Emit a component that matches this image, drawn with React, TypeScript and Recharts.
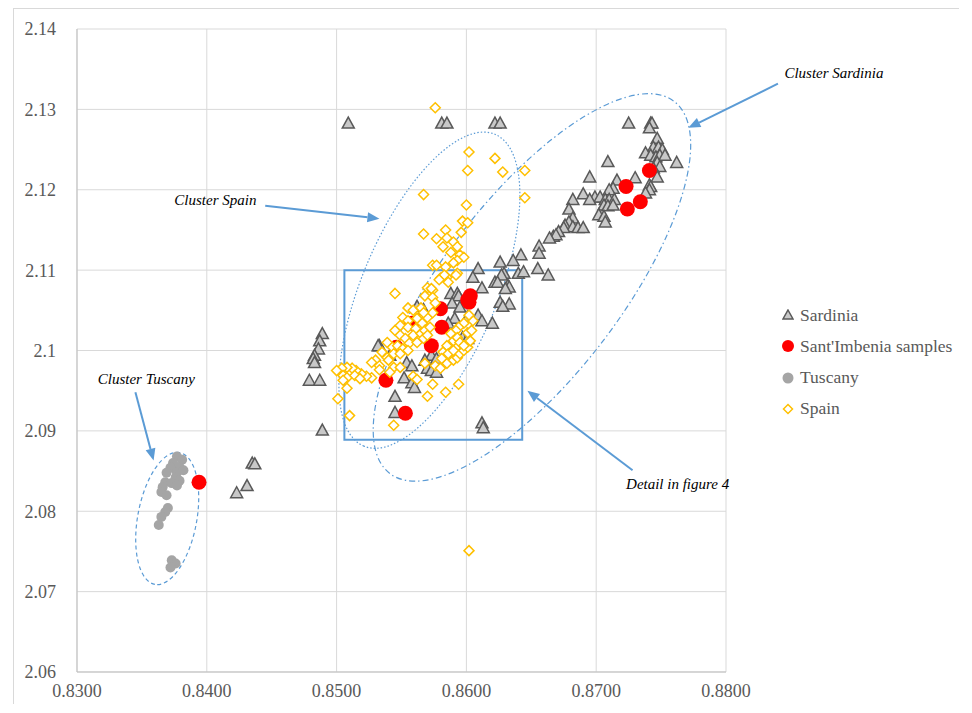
import React from 'react';
import {
  ScatterChart,
  Scatter,
  XAxis,
  YAxis,
  CartesianGrid,
  ReferenceArea,
  ReferenceLine,
  ReferenceDot,
} from 'recharts';

const xTicks = [0.83, 0.84, 0.85, 0.86, 0.87, 0.88];
const yTicks = [2.06, 2.07, 2.08, 2.09, 2.1, 2.11, 2.12, 2.13, 2.14];

const sardinia = [
  { x: 0.8509, y: 2.1283 }, { x: 0.8581, y: 2.1283 }, { x: 0.8585, y: 2.1283 }, { x: 0.8622, y: 2.1283 },
  { x: 0.8626, y: 2.1283 }, { x: 0.8725, y: 2.1283 }, { x: 0.8742, y: 2.1283 }, { x: 0.8743, y: 2.1283 },
  { x: 0.8741, y: 2.1277 }, { x: 0.8747, y: 2.1264 }, { x: 0.8744, y: 2.1253 }, { x: 0.8748, y: 2.1253 },
  { x: 0.8751, y: 2.125 }, { x: 0.8738, y: 2.1246 }, { x: 0.8742, y: 2.1243 }, { x: 0.8746, y: 2.1241 },
  { x: 0.8749, y: 2.1243 }, { x: 0.8753, y: 2.1243 }, { x: 0.8762, y: 2.1234 }, { x: 0.8709, y: 2.1235 },
  { x: 0.8747, y: 2.1234 }, { x: 0.8749, y: 2.1229 }, { x: 0.8744, y: 2.1227 }, { x: 0.8747, y: 2.1216 },
  { x: 0.873, y: 2.1215 }, { x: 0.8716, y: 2.1212 }, { x: 0.8695, y: 2.1216 }, { x: 0.8741, y: 2.1206 },
  { x: 0.8742, y: 2.1204 }, { x: 0.8713, y: 2.1202 }, { x: 0.871, y: 2.12 }, { x: 0.8741, y: 2.12 },
  { x: 0.8738, y: 2.1196 }, { x: 0.869, y: 2.1195 }, { x: 0.8699, y: 2.1191 }, { x: 0.8703, y: 2.1191 },
  { x: 0.8695, y: 2.1188 }, { x: 0.8707, y: 2.1188 }, { x: 0.871, y: 2.1188 }, { x: 0.8714, y: 2.1188 },
  { x: 0.8706, y: 2.1181 }, { x: 0.8709, y: 2.118 }, { x: 0.8713, y: 2.1181 }, { x: 0.8682, y: 2.1188 },
  { x: 0.8679, y: 2.1176 }, { x: 0.8702, y: 2.1169 }, { x: 0.8706, y: 2.1167 }, { x: 0.8707, y: 2.116 },
  { x: 0.8682, y: 2.1165 }, { x: 0.8679, y: 2.116 }, { x: 0.8676, y: 2.1156 }, { x: 0.8682, y: 2.1154 },
  { x: 0.8686, y: 2.1153 }, { x: 0.869, y: 2.1153 }, { x: 0.8675, y: 2.1153 }, { x: 0.8671, y: 2.1148 },
  { x: 0.8667, y: 2.1142 }, { x: 0.8669, y: 2.1144 }, { x: 0.8656, y: 2.113 }, { x: 0.8656, y: 2.1121 },
  { x: 0.8655, y: 2.1102 }, { x: 0.8663, y: 2.1094 }, { x: 0.8642, y: 2.1119 }, { x: 0.8636, y: 2.1112 },
  { x: 0.8626, y: 2.111 }, { x: 0.8622, y: 2.1085 }, { x: 0.8629, y: 2.1096 }, { x: 0.8632, y: 2.1081 },
  { x: 0.864, y: 2.1096 }, { x: 0.8644, y: 2.1098 }, { x: 0.8664, y: 2.114 }, { x: 0.8609, y: 2.1102 },
  { x: 0.8605, y: 2.1091 }, { x: 0.8612, y: 2.1078 }, { x: 0.8627, y: 2.1094 }, { x: 0.8624, y: 2.1085 },
  { x: 0.8633, y: 2.1079 }, { x: 0.863, y: 2.1077 }, { x: 0.8588, y: 2.1071 }, { x: 0.8593, y: 2.1071 },
  { x: 0.8594, y: 2.1068 }, { x: 0.8589, y: 2.1059 }, { x: 0.8595, y: 2.1054 }, { x: 0.8626, y: 2.106 },
  { x: 0.8633, y: 2.1058 }, { x: 0.8628, y: 2.1055 }, { x: 0.8562, y: 2.1055 }, { x: 0.8567, y: 2.1051 },
  { x: 0.8591, y: 2.104 }, { x: 0.8601, y: 2.1042 }, { x: 0.8609, y: 2.1044 }, { x: 0.8612, y: 2.1037 },
  { x: 0.862, y: 2.1034 }, { x: 0.8586, y: 2.1034 }, { x: 0.8568, y: 2.1027 }, { x: 0.8597, y: 2.1016 },
  { x: 0.8601, y: 2.1015 }, { x: 0.8533, y: 2.1006 }, { x: 0.8532, y: 2.1006 }, { x: 0.8541, y: 2.0994 },
  { x: 0.8573, y: 2.0994 }, { x: 0.8568, y: 2.0988 }, { x: 0.8577, y: 2.099 }, { x: 0.8554, y: 2.0985 },
  { x: 0.8558, y: 2.0981 }, { x: 0.857, y: 2.0978 }, { x: 0.8573, y: 2.0975 }, { x: 0.8577, y: 2.0973 },
  { x: 0.8552, y: 2.0966 }, { x: 0.8558, y: 2.096 }, { x: 0.856, y: 2.0954 }, { x: 0.8545, y: 2.0943 },
  { x: 0.8545, y: 2.0923 }, { x: 0.8612, y: 2.091 }, { x: 0.8613, y: 2.0904 }, { x: 0.8489, y: 2.0901 },
  { x: 0.8489, y: 2.1021 }, { x: 0.8487, y: 2.1012 }, { x: 0.8486, y: 2.1002 }, { x: 0.8483, y: 2.0994 },
  { x: 0.8482, y: 2.099 }, { x: 0.8483, y: 2.0985 }, { x: 0.8479, y: 2.0963 }, { x: 0.8487, y: 2.0963 },
  { x: 0.8435, y: 2.086 }, { x: 0.8437, y: 2.0859 }, { x: 0.8431, y: 2.0832 }, { x: 0.8423, y: 2.0823 },
];

const santImbenia = [
  { x: 0.8741, y: 2.1224 }, { x: 0.8723, y: 2.1204 }, { x: 0.8734, y: 2.1185 }, { x: 0.8724, y: 2.1176 },
  { x: 0.8603, y: 2.1068 }, { x: 0.8601, y: 2.1063 }, { x: 0.8602, y: 2.106 }, { x: 0.858, y: 2.1052 },
  { x: 0.8558, y: 2.1034 }, { x: 0.8581, y: 2.1029 }, { x: 0.8573, y: 2.1006 }, { x: 0.8546, y: 2.1004 },
  { x: 0.8538, y: 2.0963 }, { x: 0.8553, y: 2.0922 }, { x: 0.8394, y: 2.0836 },
];

const tuscany = [
  { x: 0.8377, y: 2.0868 }, { x: 0.8381, y: 2.0864 }, { x: 0.8374, y: 2.086 }, { x: 0.8379, y: 2.0855 },
  { x: 0.8372, y: 2.0854 }, { x: 0.8377, y: 2.0848 }, { x: 0.8382, y: 2.0851 }, { x: 0.8369, y: 2.0848 },
  { x: 0.8376, y: 2.0842 }, { x: 0.8379, y: 2.0838 }, { x: 0.8368, y: 2.0836 }, { x: 0.8373, y: 2.0835 },
  { x: 0.8377, y: 2.0832 }, { x: 0.8366, y: 2.083 }, { x: 0.8365, y: 2.0824 }, { x: 0.8369, y: 2.082 },
  { x: 0.837, y: 2.0804 }, { x: 0.8368, y: 2.0799 }, { x: 0.8365, y: 2.0793 }, { x: 0.8363, y: 2.0783 },
  { x: 0.8373, y: 2.0739 }, { x: 0.8376, y: 2.0735 }, { x: 0.8372, y: 2.073 },
];

const spain = [
  { x: 0.8576, y: 2.1302 }, { x: 0.8602, y: 2.1247 }, { x: 0.8622, y: 2.1239 }, { x: 0.8601, y: 2.1224 },
  { x: 0.8628, y: 2.1222 }, { x: 0.8645, y: 2.1224 }, { x: 0.8567, y: 2.1194 }, { x: 0.8645, y: 2.119 },
  { x: 0.86, y: 2.1181 }, { x: 0.8597, y: 2.1161 }, { x: 0.8601, y: 2.1159 }, { x: 0.8567, y: 2.1145 },
  { x: 0.8584, y: 2.115 }, { x: 0.8596, y: 2.1147 }, { x: 0.8577, y: 2.1139 }, { x: 0.8585, y: 2.114 },
  { x: 0.859, y: 2.1135 }, { x: 0.8593, y: 2.1129 }, { x: 0.8582, y: 2.1129 }, { x: 0.8588, y: 2.1122 },
  { x: 0.8595, y: 2.1119 }, { x: 0.8598, y: 2.1116 }, { x: 0.8593, y: 2.1112 }, { x: 0.859, y: 2.1109 },
  { x: 0.8574, y: 2.1106 }, { x: 0.8577, y: 2.1106 }, { x: 0.8584, y: 2.1104 }, { x: 0.8593, y: 2.1096 },
  { x: 0.8585, y: 2.1091 }, { x: 0.8586, y: 2.1085 }, { x: 0.858, y: 2.109 }, { x: 0.8545, y: 2.1071 },
  { x: 0.857, y: 2.1078 }, { x: 0.8574, y: 2.1075 }, { x: 0.8568, y: 2.1068 }, { x: 0.8583, y: 2.1094 },
  { x: 0.8592, y: 2.1094 }, { x: 0.8579, y: 2.1088 }, { x: 0.8573, y: 2.1077 }, { x: 0.8574, y: 2.1066 },
  { x: 0.8555, y: 2.1053 }, { x: 0.8559, y: 2.105 }, { x: 0.8551, y: 2.1041 }, { x: 0.8555, y: 2.1037 },
  { x: 0.8562, y: 2.104 }, { x: 0.8549, y: 2.1031 }, { x: 0.8555, y: 2.1029 }, { x: 0.8561, y: 2.1027 },
  { x: 0.8566, y: 2.1034 }, { x: 0.857, y: 2.1041 }, { x: 0.8574, y: 2.1047 }, { x: 0.8576, y: 2.1059 },
  { x: 0.8565, y: 2.1053 }, { x: 0.8567, y: 2.1047 }, { x: 0.8545, y: 2.1025 }, { x: 0.8549, y: 2.1019 },
  { x: 0.8553, y: 2.1015 }, { x: 0.8559, y: 2.1019 }, { x: 0.8565, y: 2.1021 }, { x: 0.8568, y: 2.1025 },
  { x: 0.8572, y: 2.1029 }, { x: 0.8539, y: 2.101 }, { x: 0.8543, y: 2.1004 }, { x: 0.8547, y: 2.1006 },
  { x: 0.8551, y: 2.1002 }, { x: 0.8556, y: 2.1009 }, { x: 0.8562, y: 2.101 }, { x: 0.8567, y: 2.1015 },
  { x: 0.857, y: 2.1019 }, { x: 0.8535, y: 2.0998 }, { x: 0.8539, y: 2.0991 }, { x: 0.8544, y: 2.0996 },
  { x: 0.8549, y: 2.0996 }, { x: 0.8555, y: 2.1 }, { x: 0.853, y: 2.0988 }, { x: 0.8533, y: 2.0981 },
  { x: 0.8527, y: 2.0985 }, { x: 0.854, y: 2.0988 }, { x: 0.8544, y: 2.0979 }, { x: 0.8549, y: 2.0979 },
  { x: 0.8541, y: 2.0973 }, { x: 0.8533, y: 2.0976 }, { x: 0.8527, y: 2.0966 }, { x: 0.8523, y: 2.0968 },
  { x: 0.8519, y: 2.0971 }, { x: 0.8515, y: 2.0975 }, { x: 0.8512, y: 2.0978 }, { x: 0.8508, y: 2.0979 },
  { x: 0.8504, y: 2.0978 }, { x: 0.85, y: 2.0975 }, { x: 0.8505, y: 2.0969 }, { x: 0.8508, y: 2.0966 },
  { x: 0.8514, y: 2.0969 }, { x: 0.8518, y: 2.0965 }, { x: 0.8505, y: 2.0963 }, { x: 0.8508, y: 2.0953 },
  { x: 0.8501, y: 2.094 }, { x: 0.851, y: 2.0919 }, { x: 0.8544, y: 2.0907 }, { x: 0.857, y: 2.0943 },
  { x: 0.8574, y: 2.0958 }, { x: 0.8584, y: 2.0948 }, { x: 0.8594, y: 2.0958 }, { x: 0.8559, y: 2.0968 },
  { x: 0.8562, y: 2.0964 }, { x: 0.8568, y: 2.0984 }, { x: 0.8576, y: 2.0981 }, { x: 0.858, y: 2.0978 },
  { x: 0.8585, y: 2.0984 }, { x: 0.859, y: 2.0988 }, { x: 0.8593, y: 2.0991 }, { x: 0.8595, y: 2.0996 },
  { x: 0.8598, y: 2.1 }, { x: 0.8601, y: 2.1004 }, { x: 0.8603, y: 2.1012 }, { x: 0.8605, y: 2.1037 },
  { x: 0.8602, y: 2.1044 }, { x: 0.8598, y: 2.1034 }, { x: 0.8594, y: 2.1029 }, { x: 0.8592, y: 2.1025 },
  { x: 0.8588, y: 2.1021 }, { x: 0.859, y: 2.1012 }, { x: 0.8593, y: 2.1016 }, { x: 0.8595, y: 2.101 },
  { x: 0.8598, y: 2.1006 }, { x: 0.8585, y: 2.1006 }, { x: 0.8582, y: 2.0998 }, { x: 0.8581, y: 2.099 },
  { x: 0.8586, y: 2.0996 }, { x: 0.859, y: 2.1 }, { x: 0.8601, y: 2.1022 }, { x: 0.8604, y: 2.1025 },
  { x: 0.8602, y: 2.0751 },
];

// annotations (data units)
const ellipses = [
  { from: { x: 0.8622, y: 2.1269 }, to: { x: 0.8521, y: 2.0881 }, ratio: 0.4, dash: '1.5 2' },
  { from: { x: 0.876, y: 2.131 }, to: { x: 0.8541, y: 2.0847 }, ratio: 0.38, dash: '6 3 1.5 3' },
  { from: { x: 0.8379, y: 2.0873 }, to: { x: 0.836, y: 2.0709 }, ratio: 0.44, dash: '4 3' },
];

const arrows = [
  { from: { x: 0.884, y: 2.1332 }, to: { x: 0.8771, y: 2.1277 } },
  { from: { x: 0.8445, y: 2.118 }, to: { x: 0.8533, y: 2.1164 } },
  { from: { x: 0.8345, y: 2.0948 }, to: { x: 0.8359, y: 2.0863 } },
  { from: { x: 0.8728, y: 2.0851 }, to: { x: 0.8647, y: 2.095 } },
];

const notes = [
  { x: 0.8845, y: 2.1345, text: 'Cluster Sardinia' },
  { x: 0.8375, y: 2.1188, text: 'Cluster Spain' },
  { x: 0.8316, y: 2.0965, text: 'Cluster Tuscany' },
  { x: 0.8723, y: 2.0834, text: 'Detail in figure 4' },
];

const detailBox = { x1: 0.8506, x2: 0.8643, y1: 2.0889, y2: 2.11 };

const BLUE = '#5b9bd5';
const FONT = '"Liberation Serif", "Times New Roman", serif';

const Triangle = (p: any) => (
  <path
    d={`M${p.cx},${p.cy - 6} L${p.cx + 6},${p.cy + 5} L${p.cx - 6},${p.cy + 5} Z`}
    fill="#c8c8c8"
    stroke="#595959"
    strokeWidth={1.5}
  />
);
const RedDot = (p: any) => <circle cx={p.cx} cy={p.cy} r={7.5} fill="#ff0000" />;
const GrayDot = (p: any) => <circle cx={p.cx} cy={p.cy} r={5} fill="#a5a5a5" />;
const Diamond = (p: any) => (
  <path
    d={`M${p.cx},${p.cy - 5} L${p.cx + 5},${p.cy} L${p.cx},${p.cy + 5} L${p.cx - 5},${p.cy} Z`}
    fill="#ffffff"
    stroke="#ffc000"
    strokeWidth={1.5}
  />
);

const ellipseShape = (ratio: number, dash: string) => (p: any) => {
  const { x1, y1, x2, y2 } = p;
  const cx = (x1 + x2) / 2;
  const cy = (y1 + y2) / 2;
  const rx = Math.hypot(x2 - x1, y2 - y1) / 2;
  const ang = (Math.atan2(y2 - y1, x2 - x1) * 180) / Math.PI;
  return (
    <ellipse
      cx={cx}
      cy={cy}
      rx={rx}
      ry={rx * ratio}
      transform={`rotate(${ang} ${cx} ${cy})`}
      fill="none"
      stroke={BLUE}
      strokeWidth={1.2}
      strokeDasharray={dash}
    />
  );
};

const arrowShape = (p: any) => {
  const { x1, y1, x2, y2 } = p;
  const a = Math.atan2(y2 - y1, x2 - x1);
  const len = 12;
  const half = 5;
  const bx = x2 - len * Math.cos(a);
  const by = y2 - len * Math.sin(a);
  const px = -Math.sin(a) * half;
  const py = Math.cos(a) * half;
  return (
    <g>
      <line x1={x1} y1={y1} x2={bx} y2={by} stroke={BLUE} strokeWidth={2} />
      <polygon points={`${x2},${y2} ${bx + px},${by + py} ${bx - px},${by - py}`} fill={BLUE} />
    </g>
  );
};

const noteShape = (text: string) => (p: any) => (
  <text x={p.cx} y={p.cy} dy="0.35em" fontStyle="italic" fontSize={15} fontFamily={FONT} fill="#000">
    {text}
  </text>
);

const legendItems = [
  { name: 'Sardinia', icon: <path d="M6,1 L11,10 L1,10 Z" fill="#c8c8c8" stroke="#595959" strokeWidth={1.5} /> },
  { name: "Sant'Imbenia samples", icon: <circle cx={6} cy={6} r={6} fill="#ff0000" /> },
  { name: 'Tuscany', icon: <circle cx={6} cy={6} r={5.5} fill="#a5a5a5" /> },
  { name: 'Spain', icon: <path d="M6,1.5 L10.5,6 L6,10.5 L1.5,6 Z" fill="#fff" stroke="#ffc000" strokeWidth={1.5} /> },
];

export default function App() {
  return (
    <div
      style={{
        position: 'relative',
        marginLeft: 5,
        width: 945,
        height: 695,
        borderLeft: '1px solid #d9d9d9',
        borderTop: '1px solid #d9d9d9',
        fontFamily: FONT,
        background: '#fff',
      }}
    >
      <ScatterChart width={944} height={695} margin={{ top: 20, right: 232, left: 0, bottom: 2 }}>
        <CartesianGrid stroke="#d9d9d9" />
        <XAxis
          type="number"
          dataKey="x"
          domain={[0.83, 0.88]}
          ticks={xTicks}
          interval={0}
          height={30}
          tickSize={0}
          tickMargin={12}
          tickFormatter={(v: number) => v.toFixed(4)}
          tick={{ fontSize: 18, fill: '#595959', fontFamily: FONT }}
          stroke="#bfbfbf"
        />
        <YAxis
          type="number"
          dataKey="y"
          domain={[2.06, 2.14]}
          ticks={yTicks}
          interval={0}
          width={63}
          tickSize={0}
          tickMargin={21}
          tickFormatter={(v: number) => String(Number(v.toFixed(2)))}
          tick={{ fontSize: 18, fill: '#595959', fontFamily: FONT }}
          stroke="#bfbfbf"
        />
        <Scatter name="Sardinia" data={sardinia} shape={Triangle} isAnimationActive={false} />
        <Scatter name="Sant'Imbenia samples" data={santImbenia} shape={RedDot} isAnimationActive={false} />
        <Scatter name="Tuscany" data={tuscany} shape={GrayDot} isAnimationActive={false} />
        <Scatter name="Spain" data={spain} shape={Diamond} isAnimationActive={false} />
        <ReferenceArea
          x1={detailBox.x1}
          x2={detailBox.x2}
          y1={detailBox.y1}
          y2={detailBox.y2}
          fill="none"
          stroke={BLUE}
          strokeWidth={2}
          ifOverflow="visible"
        />
        {ellipses.map((e, i) => (
          <ReferenceLine
            key={'e' + i}
            segment={[e.from, e.to]}
            ifOverflow="visible"
            shape={ellipseShape(e.ratio, e.dash)}
          />
        ))}
        {arrows.map((a, i) => (
          <ReferenceLine key={'a' + i} segment={[a.from, a.to]} ifOverflow="visible" shape={arrowShape} />
        ))}
        {notes.map((n, i) => (
          <ReferenceDot key={'n' + i} x={n.x} y={n.y} r={0} ifOverflow="visible" shape={noteShape(n.text)} />
        ))}
      </ScatterChart>
      {legendItems.map((item, i) => (
        <div
          key={item.name}
          style={{
            position: 'absolute',
            left: 768,
            top: 294 + i * 31.3,
            height: 24,
            display: 'flex',
            alignItems: 'center',
            fontSize: 17.5,
            color: '#595959',
            whiteSpace: 'nowrap',
          }}
        >
          <svg width={12} height={12} style={{ marginRight: 6 }}>
            {item.icon}
          </svg>
          {item.name}
        </div>
      ))}
    </div>
  );
}
